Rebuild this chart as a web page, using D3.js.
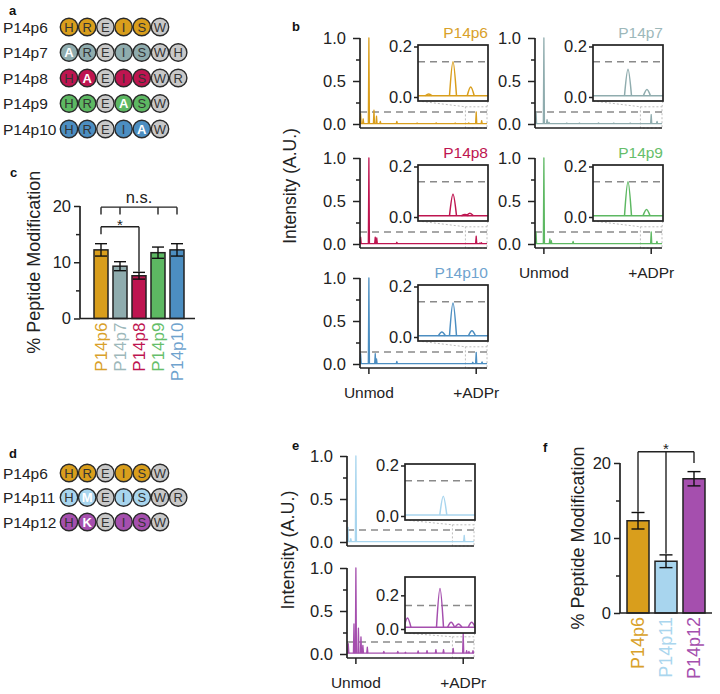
<!DOCTYPE html>
<html><head><meta charset="utf-8">
<script src="https://cdn.jsdelivr.net/npm/d3@7"></script>
<style>body{margin:0;background:#fff} svg{display:block} text{font-family:"Liberation Sans",Arial,sans-serif}</style>
</head><body><svg id="c" width="720" height="694"></svg>
<script>
// ---------------- DATA ----------------
const seqNamesA = ["P14p6","P14p7","P14p8","P14p9","P14p10"];
const seqResA = [["H","R","E","I","S","W"],["A","R","E","I","S","W","H"],["H","A","E","I","S","W","R"],["H","R","E","A","S","W"],["H","R","E","I","A","W"]];
const seqKindA = [[1,1,0,1,1,0],[2,1,0,1,1,0,0],[1,2,0,1,1,0,0],[1,1,0,2,1,0],[1,1,0,1,2,0]]; // 0 grey, 1 coloured, 2 substituted
const seqNamesD = ["P14p6","P14p11","P14p12"];
const seqResD = [["H","R","E","I","S","W"],["H","M","E","I","S","W","R"],["H","K","E","I","S","W"]];
const seqKindD = [[1,1,0,1,1,0],[1,2,0,1,1,0,0],[1,2,0,1,1,0]];

// spectra: [position (0-100), intensity]
const specP6  = [[0.5,0.12],[2.5,0.06],[7,1.0],[11,0.16],[13,0.09],[16,0.03],[29,0.03],[45,0.01],[60,0.012],[75,0.01],[85.6,0.012],[91.5,0.14],[95.8,0.04]];
const specP7  = [[0.8,0.14],[7,1.0],[9.5,0.05],[11,0.02],[25,0.01],[35,0.01],[50,0.012],[62,0.01],[75,0.01],[91.5,0.11],[96.1,0.03]];
const specP8  = [[0.5,0.08],[7,1.0],[12,0.08],[13.2,0.07],[29,0.02],[91.5,0.09],[94.4,0.01],[95.6,0.015]];
const specP9  = [[0.8,0.14],[7,1.0],[11.7,0.06],[12.8,0.04],[30,0.03],[91.5,0.14],[96,0.03]];
const specP10 = [[0.5,0.12],[7,1.0],[12,0.12],[13,0.06],[29,0.03],[88.8,0.02],[91.5,0.135],[96.1,0.025]];
const specP11 = [[0.8,0.17],[3,0.04],[7,1.0],[92.3,0.078]];
const specP12 = [[1,0.12],[5.5,0.35],[7,1.0],[9,0.3],[11,0.2],[12.5,0.1],[16,0.08],[29,0.03],[40,0.03],[46,0.02],[56,0.035],[63,0.04],[70,0.05],[76,0.05],[83.6,0.065],[91.5,0.24],[94.2,0.04],[96,0.03],[99.2,0.04]];
const specBaseline = {P14p6:0.005,P14p7:0.005,P14p8:0.005,P14p9:0.005,P14p10:0.005,P14p11:0.004,P14p12:0.01};
const insetMaxOf = {P14p6:0.2,P14p7:0.2,P14p8:0.2,P14p9:0.2,P14p10:0.2,P14p11:0.2,P14p12:0.3};
const threshold = 0.14;
const insetRange = [83,100];
const xTickLabels = ["Unmod","+ADPr"];
const xTickPos = [7,91.5];
const yTicksMain = [0,0.5,1.0];
const yMinorMain = [0.25,0.75];
const yTicksInset = [0,0.2];

// bar charts
const catsC = ["P14p6","P14p7","P14p8","P14p9","P14p10"];
const valsC = [12.2,9.3,7.6,11.7,12.2];
const errsC = [1.1,0.8,0.6,1.0,1.1];
const catsF = ["P14p6","P14p11","P14p12"];
const valsF = [12.3,6.9,17.9];
const errsF = [1.1,0.85,0.95];
const yTicksBar = [0,10,20];
const yMinorBar = [5,15];

// ---------------- STYLE ----------------
const svg = d3.select("#c");
const INK = "#222";
const GREY = "#C9C9C9";
const colorOf = {P14p6:"#D99E1C",P14p7:"#8FACAE",P14p8:"#BE1550",P14p9:"#5DB862",P14p10:"#4C8EC1",P14p11:"#A8D5EE",P14p12:"#A54FAE"};
const textColorOf = {P14p6:"#D9A12A",P14p7:"#9DB8BA",P14p8:"#BE1550",P14p9:"#66BE6A",P14p10:"#6FA3CE",P14p11:"#AAD6EE",P14p12:"#A54FAE"};

function panelLabel(t,x,y){
  svg.append("text").attr("x",x).attr("y",y).attr("font-weight","bold").attr("font-size",13).attr("fill","#111").text(t);
}

function seqRows(names, residues, kinds, x0, y0, dy){
  const rowY = d3.scalePoint().domain(names).range([y0, y0+dy*(names.length-1)]);
  names.forEach((n,i)=>{
    const g = svg.append("g").attr("transform",`translate(0,${rowY(n)})`);
    g.append("text").attr("x",3).attr("y",5.5).attr("font-size",15.5).attr("fill","#222").text(n);
    const xs = d3.scaleLinear().domain([0,1]).range([x0, x0+18.2]);
    residues[i].forEach((r,j)=>{
      const k = kinds[i][j];
      g.append("circle").attr("cx",xs(j)).attr("cy",0).attr("r",8.7)
        .attr("fill",k?colorOf[n]:GREY).attr("stroke","#2a2a2a").attr("stroke-width",1.4);
      g.append("text").attr("x",xs(j)).attr("y",4.6).attr("text-anchor","middle").attr("font-size",13)
        .attr("fill",k===2?"#fff":"#333").attr("font-weight",k===2?"bold":"normal").text(r);
    });
  });
}

let clipId = 0;
function spectrum(name, peaks, ax, y1, opts){
  const W=127, H=86;
  const base = specBaseline[name];
  const col = colorOf[name];
  const x = d3.scaleLinear().domain([0,100]).range([ax, ax+W]);
  const y = d3.scaleLinear().domain([0,1]).range([y1+H, y1]);
  const axY = y(0)+4;
  const g = svg.append("g");
  const line = d3.line().x(d=>x(d[0])).y(d=>y(d[1]));

  const ix = ax+58, iw = 70, itop = y1+opts.insetDy, ih = 56;
  const dot = sel => sel.attr("fill","none").attr("stroke","#bdbdbd").attr("stroke-width",1).attr("stroke-dasharray","2,2");
  g.append("rect").attr("x",x(insetRange[0])).attr("y",y(0.2)).attr("width",x(100)-x(insetRange[0])).attr("height",axY-y(0.2)).call(dot);
  g.append("line").attr("x1",ix).attr("y1",itop+ih).attr("x2",x(insetRange[0])).attr("y2",y(0.2)).call(dot);
  g.append("line").attr("x1",ix+iw).attr("y1",itop+ih).attr("x2",x(100)).attr("y2",y(0.2)).call(dot);

  g.append("line").attr("x1",x(0)).attr("x2",x(100)).attr("y1",y(threshold)).attr("y2",y(threshold))
    .attr("stroke","#8a8a8a").attr("stroke-width",1.5).attr("stroke-dasharray","7,5");

  const tr = g.append("g").attr("fill","none").attr("stroke",col).attr("stroke-width",1.3).attr("stroke-linejoin","round");
  tr.append("path").attr("d",line([[0,base],[100,base]]));
  peaks.forEach(p=>{
    tr.append("path").attr("d",line([[Math.max(0,p[0]-0.45),base],[p[0],p[1]],[p[0]+0.45,base]]))
      .attr("fill",col).attr("fill-opacity",0.6);
  });

  g.append("line").attr("x1",ax).attr("x2",ax).attr("y1",y(1)).attr("y2",axY).attr("stroke",INK).attr("stroke-width",1.7);
  g.append("line").attr("x1",ax).attr("x2",ax+W).attr("y1",axY).attr("y2",axY).attr("stroke",INK).attr("stroke-width",1.7);
  const ya = g.append("g").attr("transform",`translate(${ax},0)`)
    .call(d3.axisLeft(y).tickValues(yTicksMain).tickSize(7).tickPadding(7).tickFormat(d3.format(".1f")));
  ya.select(".domain").remove();
  ya.selectAll("line").attr("stroke",INK).attr("stroke-width",1.5);
  ya.selectAll("text").attr("font-size",16.5).attr("fill",INK).attr("font-family",null);
  const ym = g.append("g").attr("transform",`translate(${ax},0)`)
    .call(d3.axisLeft(y).tickValues(yMinorMain).tickSize(4).tickFormat(""));
  ym.select(".domain").remove();
  ym.selectAll("line").attr("stroke",INK).attr("stroke-width",1.5);

  if(opts.xlabels){
    xTickPos.forEach((p,i)=>{
      g.append("line").attr("x1",x(p)).attr("x2",x(p)).attr("y1",axY).attr("y2",axY+6).attr("stroke",INK).attr("stroke-width",1.5);
      g.append("text").attr("x",x(p)).attr("y",axY+29.5).attr("text-anchor","middle").attr("font-size",15.5).attr("fill",INK).text(xTickLabels[i]);
    });
  }

  const xi = d3.scaleLinear().domain(insetRange).range([ix, ix+iw]);
  const yi = d3.scaleLinear().domain([0, insetMaxOf[name]]).range([itop+52, itop+1.5]);
  const id = "clip"+(clipId++);
  svg.append("clipPath").attr("id",id).append("rect").attr("x",ix).attr("y",itop).attr("width",iw).attr("height",ih);
  g.append("rect").attr("x",ix).attr("y",itop).attr("width",iw).attr("height",ih).attr("fill","#fff");
  const ig = g.append("g").attr("clip-path",`url(#${id})`);
  ig.append("line").attr("x1",ix).attr("x2",ix+iw).attr("y1",yi(threshold)).attr("y2",yi(threshold))
    .attr("stroke","#8a8a8a").attr("stroke-width",1.5).attr("stroke-dasharray","7,5");
  const iline = d3.line().x(d=>xi(d[0])).y(d=>yi(d[1])).curve(d3.curveMonotoneX);
  const itr = ig.append("g").attr("fill","none").attr("stroke",col).attr("stroke-width",1.5);
  itr.append("path").attr("d",iline([[insetRange[0],base],[insetRange[1],base]]));
  peaks.filter(p=>p[0]>insetRange[0]-2).forEach(p=>{
    itr.append("path").attr("d",iline([[p[0]-0.85,base],[p[0],p[1]],[p[0]+0.85,base]]));
  });
  g.append("rect").attr("x",ix).attr("y",itop).attr("width",iw).attr("height",ih)
    .attr("fill","none").attr("stroke",INK).attr("stroke-width",1.7);
  const iya = g.append("g").attr("transform",`translate(${ix},0)`)
    .call(d3.axisLeft(yi).tickValues(yTicksInset).tickSize(4).tickPadding(2).tickFormat(d3.format(".1f")));
  iya.select(".domain").remove();
  iya.selectAll("line").attr("stroke",INK).attr("stroke-width",1.5);
  iya.selectAll("text").attr("font-size",16.5).attr("fill",INK).attr("font-family",null);

  if(opts.title){
    g.append("text").attr("x",ix+iw).attr("y",y1).attr("text-anchor","end").attr("font-size",15.5)
      .attr("fill",textColorOf[name]).text(name);
  }
}

function barChart(cats, vals, errs, o){
  const x = d3.scaleBand().domain(cats).range(o.xr).paddingInner(o.pad).paddingOuter(0);
  const y = d3.scaleLinear().domain([0,20]).range([o.y0, o.y20]);
  const g = svg.append("g");
  cats.forEach((c,i)=>{
    g.append("rect").attr("x",x(c)).attr("y",y(vals[i])).attr("width",x.bandwidth()).attr("height",y(0)-y(vals[i]))
      .attr("fill",colorOf[c]).attr("stroke",INK).attr("stroke-width",1.5);
    const cx = x(c)+x.bandwidth()/2;
    g.append("line").attr("x1",cx).attr("x2",cx).attr("y1",y(vals[i]-errs[i])).attr("y2",y(vals[i]+errs[i])).attr("stroke","#111").attr("stroke-width",1.4);
    [vals[i]-errs[i], vals[i]+errs[i]].forEach(v=>{
      g.append("line").attr("x1",cx-o.cap).attr("x2",cx+o.cap).attr("y1",y(v)).attr("y2",y(v)).attr("stroke","#111").attr("stroke-width",1.4);
    });
    g.append("text").attr("transform",`translate(${cx},${o.y0+4}) rotate(-90)`).attr("text-anchor","end").attr("dy","0.36em")
      .attr("font-size",o.xfs).attr("fill",textColorOf[c]).text(c);
  });
  g.append("line").attr("x1",o.ax).attr("x2",o.ax).attr("y1",y(20)).attr("y2",o.y0).attr("stroke",INK).attr("stroke-width",1.7);
  g.append("line").attr("x1",o.ax).attr("x2",o.xend).attr("y1",o.y0).attr("y2",o.y0).attr("stroke",INK).attr("stroke-width",1.7);
  const ya = g.append("g").attr("transform",`translate(${o.ax},0)`).call(d3.axisLeft(y).tickValues(yTicksBar).tickSize(6).tickPadding(3));
  ya.select(".domain").remove();
  ya.selectAll("line").attr("stroke",INK).attr("stroke-width",1.5);
  ya.selectAll("text").attr("font-size",16.5).attr("fill",INK).attr("font-family",null);
  const ym = g.append("g").attr("transform",`translate(${o.ax},0)`).call(d3.axisLeft(y).tickValues(yMinorBar).tickSize(4).tickFormat(""));
  ym.select(".domain").remove();
  ym.selectAll("line").attr("stroke",INK).attr("stroke-width",1.5);
  g.append("text").attr("transform",`translate(${o.labX},${(y(0)+y(20))/2}) rotate(-90)`).attr("text-anchor","middle")
    .attr("font-size",18).attr("fill",INK).text("% Peptide Modification");
  const cxOf = c => x(c)+x.bandwidth()/2;
  o.brackets.forEach(b=>{
    const yy = y(b.level);
    g.append("line").attr("x1",cxOf(b.from)).attr("x2",cxOf(b.to)).attr("y1",yy).attr("y2",yy).attr("stroke",INK).attr("stroke-width",1.4);
    b.drops.forEach(d=>{
      g.append("line").attr("x1",cxOf(d[0])).attr("x2",cxOf(d[0])).attr("y1",yy).attr("y2",y(d[1])).attr("stroke",INK).attr("stroke-width",1.4);
    });
    g.append("text").attr("x",b.labelAt? cxOf(b.labelAt) : (cxOf(b.from)+cxOf(b.to))/2).attr("y",yy+b.dy)
      .attr("text-anchor","middle").attr("font-size",b.fs).attr("fill",INK).text(b.text);
  });
}

// ---------------- DRAW ----------------
panelLabel("a",9,15);
seqRows(seqNamesA, seqResA, seqKindA, 69, 27, 25.5);

panelLabel("b",292,31);
spectrum("P14p6", specP6, 360, 38, {title:true, insetDy:7});
spectrum("P14p8", specP8, 360, 158, {title:true, insetDy:7});
spectrum("P14p10", specP10, 360, 278, {title:true, insetDy:7, xlabels:true});
spectrum("P14p7", specP7, 535, 38, {title:true, insetDy:7});
spectrum("P14p9", specP9, 535, 158, {title:true, insetDy:7, xlabels:true});
svg.append("text").attr("transform","translate(296,186) rotate(-90)").attr("text-anchor","middle").attr("font-size",17.5).attr("fill",INK).text("Intensity (A.U.)");

panelLabel("c",10,177);
barChart(catsC, valsC, errsC, {xr:[94,184], pad:0.263, y0:318.5, y20:206, ax:80, xend:195, cap:6, xfs:17, labX:39.5,
  brackets:[
    {from:"P14p6", to:"P14p10", level:19.8, drops:[["P14p6",18.5],["P14p7",18.5],["P14p9",18.5],["P14p10",18.5]], text:"n.s.", fs:16.5, dy:-4},
    {from:"P14p6", to:"P14p8", level:16.3, drops:[["P14p6",15.0],["P14p8",8.3]], text:"*", fs:15, dy:3.5}
  ]});

panelLabel("d",9,458);
seqRows(seqNamesD, seqResD, seqKindD, 69, 473, 24.5);

panelLabel("e",292,450);
spectrum("P14p11", specP11, 347, 456, {title:false, insetDy:8});
spectrum("P14p12", specP12, 347, 568, {title:false, insetDy:9, xlabels:true});
svg.append("text").attr("transform","translate(294,550) rotate(-90)").attr("text-anchor","middle").attr("font-size",18).attr("fill",INK).text("Intensity (A.U.)");

panelLabel("f",543,452);
barChart(catsF, valsF, errsF, {xr:[627,705], pad:0.214, y0:613, y20:463, ax:620, xend:712, cap:6.5, xfs:18, labX:583.5,
  brackets:[
    {from:"P14p6", to:"P14p12", level:21.5, drops:[["P14p6",13.5],["P14p11",7.9],["P14p12",20.0]], text:"*", fs:15, dy:2, labelAt:"P14p11"}
  ]});
</script>
</body></html>
